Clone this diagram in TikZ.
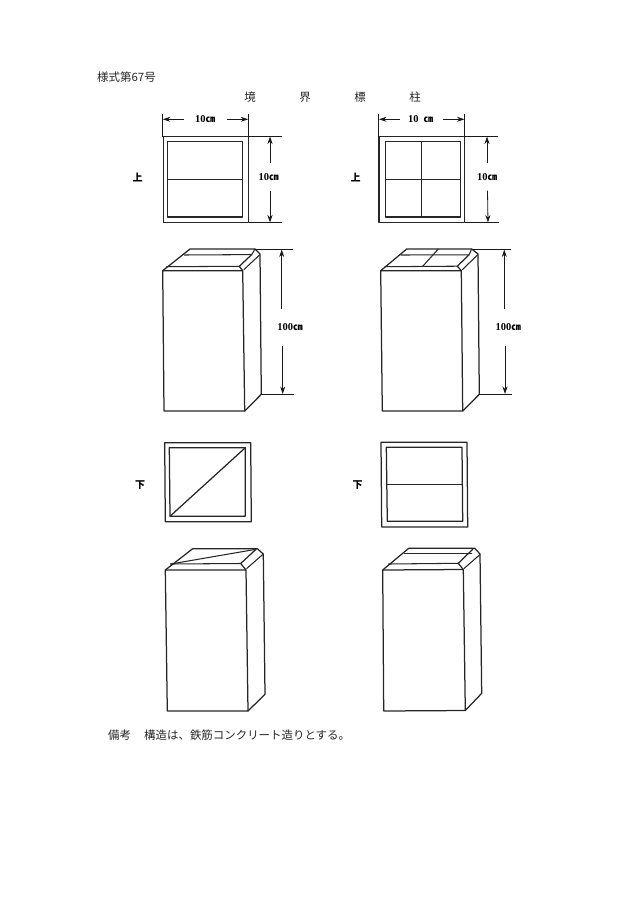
\documentclass[tikz,border=0pt]{standalone}
\usepackage{fontspec}
\usetikzlibrary{arrows.meta}
\setmainfont{Liberation Serif}
\newfontfamily\cjk{Noto Sans CJK JP}
\tikzset{
  outline/.style={line width=1.25pt,line join=round,line cap=round,draw=black!85},
  thin part/.style={line width=1.05pt,line cap=round,draw=black!85},
  dimline/.style={line width=0.8pt,draw=black!90,-{Stealth[length=7.5pt,width=5pt]}},
  extline/.style={line width=0.95pt,draw=black!90},
  dimlabel/.style={inner sep=0pt,font=\fontsize{10.5}{11}\selectfont\bfseries},
  sidelabel/.style={inner sep=0pt,font=\cjk\fontsize{10}{11}\selectfont\bfseries},
  bodytext/.style={inner sep=0pt,font=\cjk\fontsize{11.45}{12}\selectfont,text=black!85},
}
\newcommand{\cmunit}{{\cjk\fontsize{9.5}{10}\selectfont\bfseries ㎝}}
\begin{document}
\begin{tikzpicture}[x=1pt,y=-1pt]
\useasboundingbox (0,0) rectangle (630,915);

% texts
\node[bodytext,anchor=west] (form) at (97,77) {様式第67号};
\node[bodytext] (t1) at (250,97.3) {境};
\node[bodytext] (t2) at (305,97.3) {界};
\node[bodytext] (t3) at (360,97.3) {標};
\node[bodytext] (t4) at (415,97.3) {柱};
\node[bodytext,anchor=west] (note1) at (108,734.7) {備考};
\node[bodytext,anchor=west] (note2) at (144,734.7) {構造は、鉄筋コンクリート造りとする。};

% top-left square
\draw[outline] (163.3,136.7) rectangle (248.7,222.7);
\draw[outline] (167.3,141.3) rectangle (242.7,217);
\draw[thin part] (167.3,179.7) -- (242.7,179.7);
\node[sidelabel] (up1) at (137.5,177.5) {上};
\draw[extline] (162.5,114) -- (162.5,136.7);
\draw[extline] (248.5,114) -- (248.5,136.7);
\draw[extline] (248.7,136.3) -- (281.7,136.3);
\draw[extline] (248.7,222.7) -- (281.7,222.7);
\node[dimlabel] (w1) at (205,119.5) {10\cmunit};
\node[dimlabel] (h1) at (268.7,177.5) {10\cmunit};
\coordinate (w1l) at (162.7,119.3); \coordinate (w1r) at (248.3,119.3);
\coordinate (h1t) at (270,136.5); \coordinate (h1b) at (270,222.5);
\draw[dimline] (184,119.3) -- (w1l);
\draw[dimline] (226.7,119.3) -- (w1r);
\draw[dimline] (270,163) -- (h1t);
\draw[dimline] (270,190.7) -- (h1b);

% top-right square
\draw[outline] (379,136.7) rectangle (464.7,222.7);
\draw[outline] (385.3,141.3) rectangle (460.7,217);
\draw[thin part] (385.3,179.7) -- (460.7,179.7);
\draw[thin part] (421.7,141.3) -- (421.7,217);
\node[sidelabel] (up2) at (355.7,177.5) {上};
\draw[extline] (378.7,114) -- (378.7,136.7);
\draw[extline] (464.7,114) -- (464.7,136.7);
\draw[extline] (464.7,136.3) -- (497.7,136.3);
\draw[extline] (464.7,222.7) -- (498.5,222.7);
\node[dimlabel] (w2) at (420.5,119.5) {10\hspace{5pt}\cmunit};
\node[dimlabel] (h2) at (487,177.5) {10\cmunit};
\coordinate (w2l) at (379,119.3); \coordinate (w2r) at (464.5,119.3);
\coordinate (h2t) at (487,136.5); \coordinate (h2b) at (488,222.5);
\draw[dimline] (400,119.3) -- (w2l);
\draw[dimline] (442.7,119.3) -- (w2r);
\draw[dimline] (487,163.3) -- (h2t);
\draw[dimline] (487.5,190.7) -- (h2b);

% upper-left column
\draw[outline] (162.7,270.7) -- (242.7,270.7) -- (244.7,411) -- (164,411) -- cycle;
\draw[outline] (244.7,411) -- (261.3,394.3) -- (260,254) -- (255,249) -- (190,249) -- (162.7,270.7);
\draw[outline] (242.7,270.7) -- (239.3,266.3) -- (251.7,254.6);
\draw[thin part] (166.7,266.7) -- (239.3,266.3);
\draw[thin part] (184.5,255) -- (251.7,254.6) -- (255,249);
\draw[thin part] (244,269.5) -- (259.5,255);
\draw[extline] (255,249.2) -- (293.3,249.2);
\draw[extline] (261.3,394.3) -- (294.3,394.3);
\node[dimlabel] (h3) at (290,326.7) {100\cmunit};
\coordinate (h3t) at (281.7,249.5); \coordinate (h3b) at (282.7,394);
\draw[dimline] (281.7,309.3) -- (h3t);
\draw[dimline] (282.7,346) -- (h3b);

% upper-right column
\draw[outline] (380.7,270.7) -- (461.3,270.7) -- (462.7,411) -- (382.3,411) -- cycle;
\draw[outline] (462.7,411) -- (479.3,394.3) -- (478,254) -- (471.7,249) -- (406.7,249) -- (380.7,270.7);
\draw[outline] (461.3,270.7) -- (457.3,266.2) -- (469,254.8);
\draw[thin part] (385,266.7) -- (457.3,266.2);
\draw[thin part] (401,255) -- (469,254.8) -- (471.7,249);
\draw[thin part] (438.3,249) -- (422.7,266.3);
\draw[thin part] (462.5,269.5) -- (477.5,255);
\draw[extline] (471.7,249.2) -- (510.7,249.2);
\draw[extline] (479.3,394.3) -- (512.3,394.3);
\node[dimlabel] (h4) at (508.3,326.7) {100\cmunit};
\coordinate (h4t) at (504.3,249.5); \coordinate (h4b) at (505,394);
\draw[dimline] (504.3,309.3) -- (h4t);
\draw[dimline] (505,346) -- (h4b);

% lower-left square
\draw[outline] (164.7,442.7) -- (250.7,442.7) -- (251.3,521.7) -- (165.3,521.7) -- cycle;
\draw[outline] (169.3,447.7) -- (245.3,447.7) -- (245.3,516.3) -- (170,516.3) -- cycle;
\draw[outline] (170,516.3) -- (245.3,447.7);
\node[sidelabel] (down1) at (140,485) {下};

% lower-right square
\draw[outline] (381,442.3) -- (467,442.3) -- (467.7,527) -- (381.7,527) -- cycle;
\draw[outline] (386.3,447.3) -- (462,447.3) -- (462.7,521.3) -- (387.3,521.3) -- cycle;
\draw[thin part] (386.8,484.7) -- (462.4,484.7);
\node[sidelabel] (down2) at (357.7,485) {下};

% lower-left column
\draw[outline] (165.3,570) -- (246,570) -- (248,711) -- (167.3,711) -- cycle;
\draw[outline] (248,711) -- (265,694.3) -- (263.3,554) -- (257.3,548.7) -- (192.7,548.7) -- (165.3,570);
\draw[outline] (246,570) -- (240.7,563.5) -- (256,549.3);
\draw[thin part] (170.7,564) -- (240.7,563.5);
\draw[thin part] (170.7,564) -- (256,549.3);
\draw[thin part] (246.7,568.5) -- (263,554.3);

% lower-right column
\draw[outline] (382.7,570) -- (463.3,569.5) -- (465.3,710.5) -- (383.7,711) -- cycle;
\draw[outline] (465.3,710.5) -- (481.7,693.3) -- (480,554) -- (474.7,548.3) -- (408.7,548.3) -- (382.7,570);
\draw[outline] (463.3,569.5) -- (458.3,563.3) -- (473,549);
\draw[thin part] (388.7,564) -- (458.3,563.3);
\draw[thin part] (404.5,553.3) -- (471.7,553.3);
\draw[thin part] (464,568.5) -- (480,554.5);
\end{tikzpicture}
\end{document}
